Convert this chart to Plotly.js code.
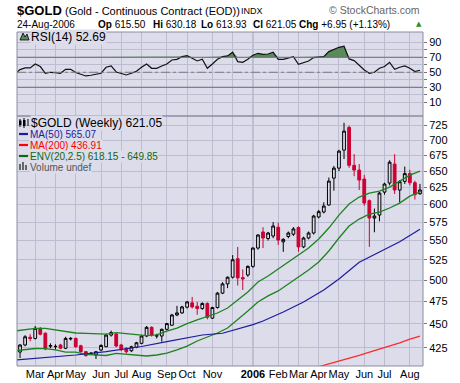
<!DOCTYPE html>
<html><head><meta charset="utf-8">
<script src="https://cdn.plot.ly/plotly-3.0.1.min.js"></script>
<style>html,body{margin:0;padding:0;background:#fff;}#chart{width:460px;height:383px;}</style>
</head><body><div id="chart"></div>
<script>
const weekDates = ['2005-02-14','2005-02-21','2005-02-28','2005-03-07','2005-03-14','2005-03-21','2005-03-28','2005-04-04','2005-04-11','2005-04-18','2005-04-25','2005-05-02','2005-05-09','2005-05-16','2005-05-23','2005-05-30','2005-06-06','2005-06-13','2005-06-20','2005-06-27','2005-07-04','2005-07-11','2005-07-18','2005-07-25','2005-08-01','2005-08-08','2005-08-15','2005-08-22','2005-08-29','2005-09-05','2005-09-12','2005-09-19','2005-09-26','2005-10-03','2005-10-10','2005-10-17','2005-10-24','2005-10-31','2005-11-07','2005-11-14','2005-11-21','2005-11-28','2005-12-05','2005-12-12','2005-12-19','2005-12-26','2006-01-02','2006-01-09','2006-01-16','2006-01-23','2006-01-30','2006-02-06','2006-02-13','2006-02-20','2006-02-27','2006-03-06','2006-03-13','2006-03-20','2006-03-27','2006-04-03','2006-04-10','2006-04-17','2006-04-24','2006-05-01','2006-05-08','2006-05-15','2006-05-22','2006-05-29','2006-06-05','2006-06-12','2006-06-19','2006-06-26','2006-07-03','2006-07-10','2006-07-17','2006-07-24','2006-07-31','2006-08-07','2006-08-14','2006-08-21'];
const openP  = [420.6,427.8,435.8,434.6,445.3,440.1,426.5,426.0,427.8,424.4,434.0,434.6,427.0,421.0,418.5,417.6,422.7,426.0,438.1,439.2,427.8,424.4,421.9,425.4,429.5,437.1,446.3,437.0,437.1,444.2,448.6,459.8,462.1,468.5,473.4,469.6,467.0,472.7,456.3,468.1,484.6,495.5,503.5,526.4,503.0,506.2,516.8,540.1,561.4,552.6,556.0,567.8,548.2,555.3,558.4,567.4,541.6,553.3,560.0,582.0,589.0,599.0,639.0,654.6,683.6,722.0,659.0,651.5,637.6,605.3,580.5,584.7,617.9,631.5,661.0,620.9,634.0,646.0,632.0,615.50];
const highP  = [428.5,438.0,439.0,447.8,446.5,441.0,429.5,428.5,429.0,436.3,436.0,435.5,428.0,421.5,420.5,421.5,428.5,439.5,442.8,440.0,429.0,425.5,427.0,431.0,438.0,447.8,447.5,439.5,445.0,451.0,461.0,470.0,470.0,475.5,480.2,474.5,474.0,474.0,469.0,486.0,497.5,504.5,531.0,541.6,513.0,518.0,541.0,558.5,567.8,561.5,575.0,574.0,553.0,562.0,568.0,569.0,555.0,562.0,585.0,592.0,603.0,640.0,658.0,684.0,730.0,725.0,677.0,661.0,644.0,607.0,594.0,618.0,632.0,667.0,677.0,636.0,657.0,652.0,635.0,630.18];
const lowP   = [414.6,426.5,431.6,433.5,437.8,422.5,424.4,423.0,423.5,423.5,432.5,425.0,420.0,416.0,417.5,413.6,421.5,425.5,436.5,425.5,421.5,419.3,420.5,424.5,428.5,436.0,436.5,434.5,431.2,443.0,448.0,458.5,461.0,467.0,467.0,460.0,465.5,455.0,455.5,467.0,483.5,490.5,502.0,493.6,488.3,504.0,515.0,538.0,540.1,550.0,553.0,544.1,535.2,553.0,556.0,535.2,540.0,551.5,558.0,580.0,587.0,598.0,620.0,650.0,669.0,655.0,642.0,621.0,598.0,541.6,561.0,576.0,614.0,628.0,615.0,602.6,630.0,628.0,607.0,613.93];
const closeP = [427.8,436.3,434.5,445.3,439.0,423.7,427.2,426.3,424.5,434.6,434.6,426.0,421.0,417.0,419.3,420.9,427.3,438.1,440.8,426.7,423.0,420.9,426.0,430.1,437.1,446.3,438.1,437.5,444.2,450.4,459.8,462.1,468.8,474.5,468.8,467.0,472.7,457.3,468.1,484.6,495.5,503.5,525.1,502.7,501.5,516.8,540.1,557.3,553.3,560.0,569.5,550.6,551.5,560.0,565.5,541.6,553.3,560.0,583.3,589.5,597.5,634.5,654.6,681.9,715.5,659.0,651.5,636.0,601.8,580.5,583.3,616.5,630.0,664.0,621.0,633.5,646.0,632.0,614.10,621.05];

const envDates = ['2005-02-07','2005-02-21','2005-03-07','2005-03-21','2005-04-04','2005-04-18','2005-05-02','2005-05-16','2005-05-30','2005-06-13','2005-06-27','2005-07-11','2005-07-25','2005-08-08','2005-08-22','2005-09-05','2005-09-19','2005-10-03','2005-10-17','2005-10-31','2005-11-14','2005-11-28','2005-12-12','2005-12-26','2006-01-09','2006-01-23','2006-02-06','2006-02-20','2006-03-06','2006-03-20','2006-04-03','2006-04-17','2006-05-01','2006-05-15','2006-05-29','2006-06-12','2006-06-26','2006-07-10','2006-07-24','2006-08-07','2006-08-21'];
const envUpper = [442.4,443.5,445.3,445.3,443.5,441.6,440.3,439.8,439.2,439.2,440.7,439.8,438.2,437.6,438.2,442.4,445.6,450.4,454.3,458.0,462.0,467.6,476.7,485.9,497.8,505.0,513.6,522.3,531.1,540.1,552.0,566.7,584.7,600.4,610.6,616.5,619.4,625.4,634.5,643.7,649.85];
const envLower = [421.9,423.0,424.2,424.0,422.7,420.6,420.6,418.3,417.6,417.1,419.3,418.6,417.6,416.6,417.6,419.6,422.7,426.7,431.9,436.0,440.3,445.6,454.3,464.2,474.4,481.4,487.2,495.4,503.8,512.4,522.3,536.3,553.3,569.5,579.1,586.1,588.9,594.7,601.8,612.0,618.15];

const ma50Dates = ['2005-02-07','2005-03-21','2005-05-02','2005-06-13','2005-08-01','2005-09-05','2005-10-03','2005-10-24','2005-11-21','2005-12-19','2006-01-02','2006-01-16','2006-02-13','2006-03-13','2006-04-10','2006-05-01','2006-05-29','2006-06-26','2006-07-24','2006-08-21'];
const ma50 = [412.6,414.9,417.6,421.0,426.2,431.2,435.0,438.2,440.0,446.0,449.3,453.2,463.1,474.4,488.3,501.4,522.0,535.0,548.3,565.07];

const ma200Dates = ['2006-04-03','2006-04-24','2006-05-15','2006-05-29','2006-06-19','2006-07-03','2006-07-24','2006-08-07','2006-08-21'];
const ma200 = [406.0,410.0,414.2,417.2,422.0,425.0,430.0,433.8,436.91];

const rsiDates = ['2005-02-07'].concat(weekDates);
const rsi14 = [48.0,53.5,55.8,55.8,61.1,57.6,48.7,50.0,49.6,48.7,54.0,54.0,49.6,47.3,45.1,46.0,46.9,48.7,56.7,58.4,50.4,48.2,46.4,48.7,51.3,56.7,61.1,55.3,55.3,58.4,61.1,66.4,67.3,70.9,72.2,68.7,65.1,67.3,55.3,61.1,67.3,70.9,71.8,76.7,64.2,63.3,67.3,72.7,75.3,74.0,74.4,76.7,67.3,67.3,69.6,70.9,60.7,63.3,65.1,69.6,70.4,70.9,77.6,80.7,83.3,84.7,67.8,65.6,59.8,53.1,48.7,50.0,55.3,57.6,63.3,54.0,56.7,58.4,55.3,50.9,52.69];

const monthTicks = ['2005-03-07','2005-04-04','2005-05-02','2005-06-06','2005-07-04','2005-08-01','2005-09-05','2005-10-03','2005-11-07','2005-12-05','2006-01-02','2006-02-06','2006-03-06','2006-04-03','2006-05-01','2006-06-05','2006-07-03','2006-08-07'];
const monthLabels = ['Mar','Apr','May','Jun','Jul','Aug','Sep','Oct','Nov','','<b>2006</b>','Feb','Mar','Apr','May','Jun','Jul','Aug'];
const priceTicks = [425,450,475,500,525,550,575,600,625,650,675,700,725];
const rsiTicks = [10,20,30,40,50,60,70,80,90];
const rsiTickLabels = ['10','','30','','50','','70','','90'];

// ---- layout helpers (pixel -> paper) ----
const L=17, R=423, T=32, B=366, SPLIT=116;
const PX = x => (x-L)/(R-L);
const PY = y => (B-y)/(B-T);
const split = PY(SPLIT);
const BG = '#DCDCEB', GRID = '#BDBDD2', FONT = 'Liberation Sans, Arial, sans-serif';

const n = closeP.length;
const last = n-1;
const chg = closeP[last]-closeP[last-1];
const pct = chg/closeP[last-1]*100;

const traces = [
  {type:'scatter', mode:'lines', x:envDates, y:envUpper, line:{color:'#1E821E', width:1.3}, xaxis:'x', yaxis:'y', hoverinfo:'skip'},
  {type:'scatter', mode:'lines', x:envDates, y:envLower, line:{color:'#1E821E', width:1.3}, xaxis:'x', yaxis:'y', hoverinfo:'skip'},
  {type:'scatter', mode:'lines', x:ma50Dates, y:ma50, line:{color:'#1C1C9C', width:1.2}, xaxis:'x', yaxis:'y', hoverinfo:'skip'},
  {type:'scatter', mode:'lines', x:ma200Dates, y:ma200, line:{color:'#FF2A2A', width:1.3}, xaxis:'x', yaxis:'y', hoverinfo:'skip'},
  {type:'candlestick', x:weekDates, open:openP, high:highP, low:lowP, close:closeP, xaxis:'x', yaxis:'y',
   whiskerwidth:0,
   increasing:{line:{color:'#000000', width:1}, fillcolor:BG},
   decreasing:{line:{color:'#CC0033', width:1}, fillcolor:'#CC0033'}, hoverinfo:'skip'},
  {type:'scatter', mode:'lines', x:rsiDates, y:rsiDates.map(()=>70), line:{width:0, color:'rgba(0,0,0,0)'}, xaxis:'x', yaxis:'y2', hoverinfo:'skip'},
  {type:'scatter', mode:'lines', x:rsiDates, y:rsi14.map(v=>Math.max(v,70)), fill:'tonexty', fillcolor:'#5A8A5A', line:{width:0, color:'rgba(0,0,0,0)'}, xaxis:'x', yaxis:'y2', hoverinfo:'skip'},
  {type:'scatter', mode:'lines', x:rsiDates, y:rsi14, line:{color:'#111111', width:1.2}, xaxis:'x', yaxis:'y2', hoverinfo:'skip'}
];

const ann = (x,y,text,opt={}) => Object.assign({xref:'paper', yref:'paper', x:PX(x), y:PY(y), xanchor:'left', yanchor:'middle', showarrow:false, text:text, font:{family:FONT, size:11, color:'#000'}}, opt);
const f = v => v.toFixed(2);
const F10 = {family:FONT, size:10, color:'#000'};

const annotations = [
  ann(15,10,'<b>$GOLD</b>',{font:{family:FONT,size:13,color:'#000'}}),
  ann(63,11,'(Gold - Continuous Contract (EOD))'),
  ann(239,11,'INDX',{font:{family:FONT,size:9,color:'#000'}}),
  ann(422,10,'© StockCharts.com',{xanchor:'right',font:{family:FONT,size:10.5,color:'#666'}}),
  ann(15,24,'24-Aug-2006',{font:F10}),
  ann(96,24,'<b>Op</b> '+f(openP[last]),{font:F10}),
  ann(151,24,'<b>Hi</b> '+f(highP[last]),{font:F10}),
  ann(199,24,'<b>Lo</b> '+f(lowP[last]),{font:F10}),
  ann(251,24,'<b>Cl</b> '+f(closeP[last]),{font:F10}),
  ann(297,24,'<b>Chg</b> +'+f(chg)+' (+'+f(pct)+'%)',{font:F10}),
  ann(414,24,'▲',{font:{family:'DejaVu Sans',size:7,color:'#2E8B2E'}}),
  ann(30,37,'RSI(14) '+f(rsi14[rsi14.length-1]),{font:{family:FONT,size:12,color:'#000'},bgcolor:BG,borderpad:0}),
  ann(30,123,'$GOLD (Weekly) '+f(closeP[last]),{font:{family:FONT,size:12,color:'#000'},bgcolor:BG,borderpad:0}),
  ann(29,134,'MA(50) '+f(ma50[ma50.length-1]),{font:{family:FONT,size:10,color:'#1C1C9C'},bgcolor:BG,borderpad:0}),
  ann(29,145,'MA(200) '+f(ma200[ma200.length-1]),{font:{family:FONT,size:10,color:'#FF0000'},bgcolor:BG,borderpad:0}),
  ann(29,156,'ENV(20,2.5) '+f(envLower[envLower.length-1])+' - '+f(envUpper[envUpper.length-1]),{font:{family:FONT,size:10,color:'#116611'},bgcolor:BG,borderpad:0}),
  ann(29,167,'Volume undef',{font:{family:FONT,size:10,color:'#555'},bgcolor:BG,borderpad:0})
];

const pline = (x0,y0,x1,y1,color,w) => ({type:'line', xref:'paper', yref:'paper', x0:PX(x0), y0:PY(y0), x1:PX(x1), y1:PY(y1), line:{color:color, width:w}});
const prect = (x0,y0,x1,y1,color) => ({type:'rect', xref:'paper', yref:'paper', x0:PX(x0), y0:PY(y0), x1:PX(x1), y1:PY(y1), line:{width:0}, fillcolor:color});

const shapes = [
  {type:'line', xref:'x', yref:'paper', x0:monthTicks[10], x1:monthTicks[10], y0:0, y1:1, line:{color:'#A4A4BC', width:1.2}, layer:'below'},
  {type:'line', xref:'paper', yref:'y2', x0:0, x1:1, y0:70, y1:70, line:{color:'#6E6E78', width:1}},
  {type:'line', xref:'paper', yref:'y2', x0:0, x1:1, y0:30, y1:30, line:{color:'#6E6E78', width:1}},
  {type:'line', xref:'paper', yref:'y2', x0:0, x1:1, y0:50, y1:50, line:{color:'#7A7A84', width:1, dash:'dashdot'}},
  {type:'rect', xref:'paper', yref:'paper', x0:0, x1:1, y0:0, y1:split, line:{color:'#8C8CA0', width:1}},
  {type:'rect', xref:'paper', yref:'paper', x0:0, x1:1, y0:split, y1:1, line:{color:'#8C8CA0', width:1}},
  // legend icons
  pline(20,119,20,127,'#000',1), prect(19,120.5,21.5,125,'#000'),
  pline(24,118,24,128,'#000',1), prect(23,120,25.5,126,'#000'),
  pline(28,119,28,126,'#000',1),
  pline(19,134,28,134,'#1C1C9C',2.2),
  pline(19,145,28,145,'#FF0000',2.2),
  pline(19,156,28,156,'#116611',2.2),
  prect(19,164,21,170,'#666'), prect(22,162,24,170,'#666'), prect(25,165,27,170,'#666'),
  {type:'path', xref:'paper', yref:'paper', path:`M ${PX(20)} ${PY(40)} L ${PX(23)} ${PY(33)} L ${PX(25)} ${PY(37)} L ${PX(27)} ${PY(34)} L ${PX(29)} ${PY(40)} Z`, fillcolor:'#5A8A5A', line:{color:'#000', width:0.8}}
];

const layout = {
  width:460, height:383,
  margin:{l:L, r:460-R, t:T, b:383-B, pad:0},
  paper_bgcolor:'#FFFFFF', plot_bgcolor:BG,
  showlegend:false, boxgap:0.22,
  font:{family:FONT, size:11, color:'#000'},
  xaxis:{type:'date', range:['2005-02-09 19:12','2006-08-25 04:48'], tickmode:'array', tickvals:monthTicks, ticktext:monthLabels,
         tickangle:0, showgrid:true, gridcolor:GRID, gridwidth:1, zeroline:false, showline:false, ticks:'',
         tickfont:{family:FONT, size:11, color:'#000'}, rangeslider:{visible:false}, fixedrange:true},
  yaxis:{type:'log', domain:[0, split], range:[Math.log10(406.7), Math.log10(742)], side:'right', tickmode:'array',
         tickvals:priceTicks, ticktext:priceTicks.map(String), ticks:'outside', ticklen:3, tickcolor:'#777',
         showgrid:true, gridcolor:GRID, zeroline:false, showline:false, tickfont:{family:FONT,size:11,color:'#000'}, fixedrange:true},
  yaxis2:{domain:[split,1], range:[-8.3,103.7], side:'right', anchor:'x', tickmode:'array', tickvals:rsiTicks, ticktext:rsiTickLabels,
         ticks:'outside', ticklen:3, tickcolor:'#777', showgrid:true, gridcolor:GRID, zeroline:false, showline:false,
         tickfont:{family:FONT,size:11,color:'#000'}, fixedrange:true},
  annotations:annotations,
  shapes:shapes
};

Plotly.newPlot('chart', traces, layout, {displayModeBar:false, staticPlot:true});
</script></body></html>
